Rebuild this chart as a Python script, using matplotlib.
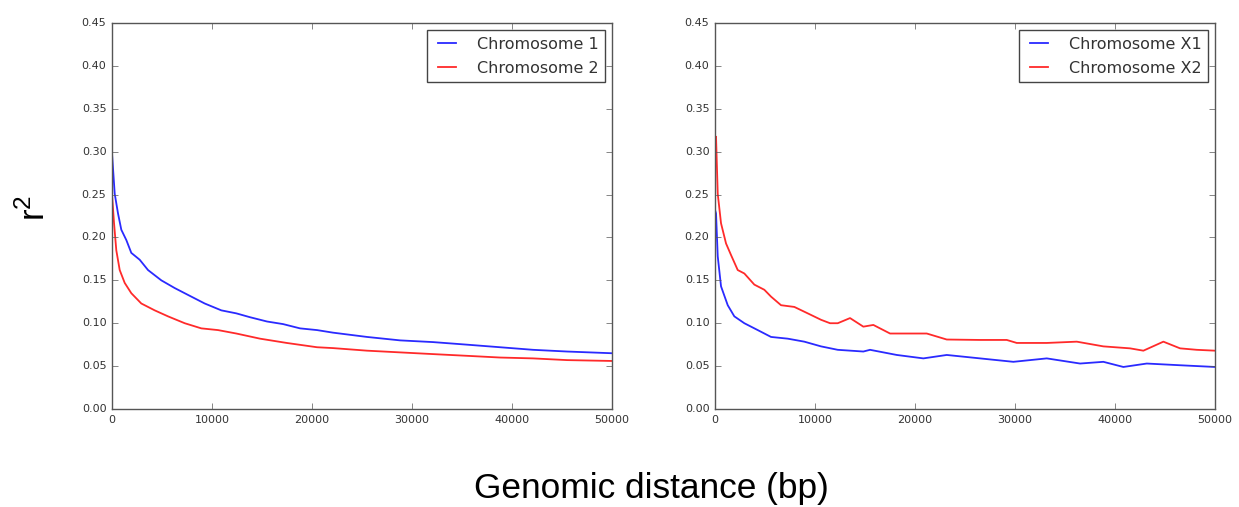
import matplotlib
matplotlib.use("Agg")
import matplotlib.pyplot as plt

# ---- data ----
chr1_x = [0, 270, 600, 930, 1430, 1930, 2770, 3600, 4930, 6270, 7600, 9270, 10930, 12430,
          13800, 15500, 17100, 18800, 20500, 22100, 25500, 28800, 32100,
          35500, 38800, 42100, 45500, 50000]
chr1_y = [0.298, 0.251, 0.228, 0.209, 0.197, 0.182, 0.174, 0.162, 0.150, 0.141, 0.133,
          0.123, 0.115, 0.1115, 0.107, 0.102, 0.099, 0.094, 0.092, 0.089,
          0.084, 0.080, 0.078, 0.075, 0.072, 0.069, 0.067, 0.065]
chr2_x = [0, 200, 430, 770, 1270, 1930, 2930, 4270, 5600, 7270, 8930, 10600, 12430, 14800,
          17470, 20500, 22100, 25500, 28800, 32100, 35500, 38800, 42100, 45500, 50000]
chr2_y = [0.250, 0.217, 0.185, 0.162, 0.147, 0.135, 0.123, 0.115, 0.108, 0.100, 0.094,
          0.092, 0.088, 0.082, 0.077, 0.072, 0.071, 0.068, 0.066, 0.064, 0.062, 0.060,
          0.059, 0.057, 0.056]

chrx1_x = [0, 100, 270, 600, 1270, 1930, 2930, 4270, 5600, 7270, 8930, 10600, 12270,
           14830, 15500, 18170, 20830, 23170, 26500, 29830, 33170, 36500, 38830, 40830,
           43170, 46500, 50000]
chrx1_y = [0.232, 0.228, 0.178, 0.143, 0.121, 0.108, 0.100, 0.092, 0.084, 0.082, 0.0785,
           0.073, 0.069, 0.067, 0.069, 0.063, 0.059, 0.063, 0.059, 0.055, 0.059, 0.053,
           0.055, 0.049, 0.053, 0.051, 0.049]
chrx2_x = [0, 100, 270, 600, 1100, 1600, 2270, 2930, 3930, 4930, 5600, 6600, 7930, 9270,
           10600, 11500, 12270, 13500, 14830, 15830, 17500, 19170, 21170, 23170, 26500,
           29170, 30170, 33170, 36170, 38830, 41500, 42830, 44830, 46500, 48170, 50000]
chrx2_y = [0.310, 0.3175, 0.251, 0.2165, 0.193, 0.1795, 0.162, 0.158, 0.145, 0.139, 0.131,
           0.121, 0.119, 0.1115, 0.104, 0.100, 0.100, 0.106, 0.096, 0.098, 0.088, 0.088,
           0.088, 0.081, 0.0805, 0.0805, 0.077, 0.077, 0.0785, 0.073, 0.0707, 0.068, 0.0785,
           0.0707, 0.069, 0.068]

yticks = [0.00, 0.05, 0.10, 0.15, 0.20, 0.25, 0.30, 0.35, 0.40, 0.45]
xticks = [0, 10000, 20000, 30000, 40000, 50000]

plt.style.use("classic")
plt.rcParams["mathtext.fontset"] = "custom"
plt.rcParams["mathtext.rm"] = "Liberation Sans"
plt.rcParams["mathtext.it"] = "Liberation Sans"
plt.rcParams["mathtext.default"] = "regular"

fig = plt.figure(figsize=(12.39, 5.07), dpi=100, facecolor="white")

panels = [
    ([0.0904, 0.1933, 0.4036, 0.7613], (chr1_x, chr1_y, "Chromosome 1"), (chr2_x, chr2_y, "Chromosome 2")),
    ([0.5771, 0.1933, 0.4036, 0.7613], (chrx1_x, chrx1_y, "Chromosome X1"), (chrx2_x, chrx2_y, "Chromosome X2")),
]
for rect, s1, s2 in panels:
    ax = fig.add_axes(rect)
    ax.plot(s1[0], s1[1], color="#2a2aff", lw=1.3, label=s1[2])
    ax.plot(s2[0], s2[1], color="#ff2a2a", lw=1.3, label=s2[2])
    ax.set_xlim(0, 50000)
    ax.set_ylim(0, 0.45)
    ax.set_xticks(xticks)
    ax.set_yticks(yticks)
    ax.set_yticklabels([f"{v:.2f}" for v in yticks])
    ax.set_xticklabels([str(v) for v in xticks])
    ax.tick_params(labelsize=8, labelcolor="#333333", color="#555555")
    for sp in ax.spines.values():
        sp.set_color("#555555")
    leg = ax.legend(loc="upper right", fontsize=11.5, frameon=True, fancybox=False,
                    handlelength=1.7, handletextpad=1.0, borderpad=0.4,
                    labelspacing=0.58, borderaxespad=0.45)
    leg.get_frame().set_edgecolor("#444444")
    for t in leg.get_texts():
        t.set_color("#333333")

fig.text(0.028, 0.59, "r$^2$", rotation=90, fontsize=25, family="Liberation Sans",
         ha="center", va="center", color="black")
fig.text(0.526, 0.037, "Genomic distance (bp)", fontsize=25.4, family="Liberation Sans",
         ha="center", va="center", color="black")

fig.savefig("out.png", dpi=100, facecolor="white")
